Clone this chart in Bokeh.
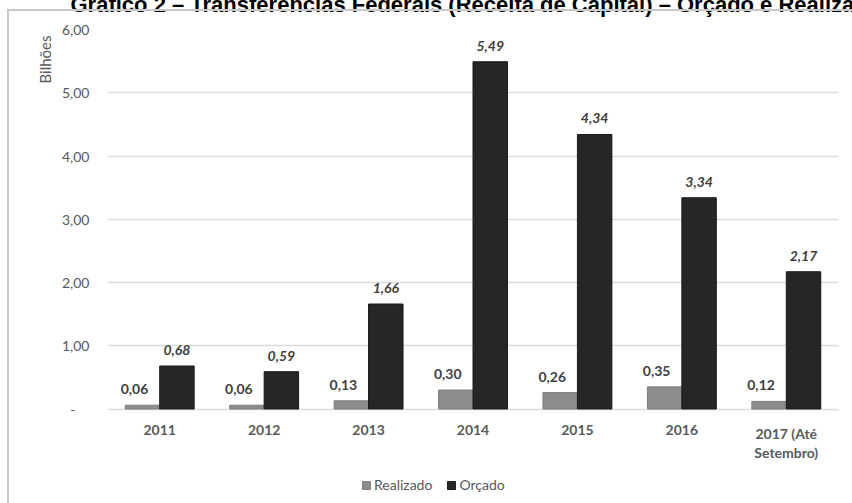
from bokeh.plotting import figure
from bokeh.models import (ColumnDataSource, FactorRange, Range1d, FixedTicker,
                          CustomJSTickFormatter, Title, Legend, LegendItem,
                          InlineStyleSheet)
from bokeh.transform import dodge
from bokeh.core.properties import value
from bokeh.embed import file_html
from bokeh.resources import INLINE

# Transferências federais (receita de capital), em bilhões
anos = ["2011", "2012", "2013", "2014", "2015", "2016", "2017 (Até\nSetembro)"]
realizado = [0.06, 0.06, 0.13, 0.30, 0.26, 0.35, 0.12]
orcado = [0.68, 0.59, 1.66, 5.49, 4.34, 3.34, 2.17]
y_ticks = [0, 1, 2, 3, 4, 5, 6]

titulo = "Gráfico 2 – Transferências Federais (Receita de Capital) – Orçado e Realizado"


def fmt(v):
    return f"{v:.2f}".replace(".", ",")


src = ColumnDataSource(dict(
    ano=anos,
    realizado=realizado,
    orcado=orcado,
    lbl_r=[fmt(v) for v in realizado],
    lbl_o=[fmt(v) for v in orcado],
    zero=[0] * len(anos),
))

FONT = "Lato"
GRAY_TXT = "#595959"
LBL_TXT = "#404040"
SHIFT = 31  # page heading sits partly above the visible area

# thin frame around the chart area (top and left edges)
frame_css = InlineStyleSheet(css=f"""
:host {{ position: relative; }}
:host::after {{
  content: ""; position: absolute; left: 7px; top: {9 + SHIFT}px;
  right: 0; bottom: 0; border-left: 2px solid #c8c8c8;
  border-top: 2px solid #c8c8c8; pointer-events: none; z-index: 100;
}}
""")

# the plot area reaches down to the bottom edge so that the category
# captions and the legend can sit below the zero line
p = figure(width=852, height=503 + SHIFT, x_range=FactorRange(*anos),
           y_range=Range1d(-1.494, 6), output_backend="svg",
           toolbar_location=None, x_axis_location=None,
           min_border_left=107, min_border_right=14,
           min_border_top=29 + SHIFT, min_border_bottom=0)
p.styles = {"margin-top": f"-{SHIFT}px"}
p.stylesheets = [frame_css]
p.outline_line_color = None
p.background_fill_color = "white"
p.border_fill_color = "white"

p.title = Title(text=titulo, align="left", offset=-37, standoff=26,
                text_font="Liberation Sans", text_font_size="22px",
                text_font_style="bold", text_color="black")

r_real = p.vbar(x=dodge("ano", -0.165, range=p.x_range), top="realizado",
                width=0.33, source=src, fill_color="#8c8c8c",
                line_color="#7f7f7f", line_width=1)
r_orc = p.vbar(x=dodge("ano", 0.165, range=p.x_range), top="orcado",
               width=0.33, source=src, fill_color="#262626",
               line_color="#1a1a1a", line_width=1)

# value labels
p.text(x=dodge("ano", -0.165, range=p.x_range), y="realizado", text="lbl_r",
       source=src, text_font=value(FONT), text_font_size="14px",
       text_font_style="bold", text_color=LBL_TXT, text_align="center",
       text_baseline="middle", x_offset=-8, y_offset=-16)
p.text(x=dodge("ano", 0.165, range=p.x_range), y="orcado", text="lbl_o",
       source=src, text_font=value(FONT), text_font_size="14px",
       text_font_style="bold italic", text_color=LBL_TXT, text_align="center",
       text_baseline="middle", y_offset=-16)

# category captions under the zero line
p.text(x="ano", y="zero", text="ano", source=src, text_font=value(FONT),
       text_font_size="14px", text_font_style="bold", text_color=GRAY_TXT,
       text_align="center", text_baseline="top", text_line_height=1.1,
       y_offset=16)

# value axis
p.yaxis.ticker = FixedTicker(ticks=y_ticks)
p.yaxis.formatter = CustomJSTickFormatter(code="""
    if (tick == 0) { return "-\u2002\u2002"; }
    return tick.toFixed(2).replace('.', ',');
""")
p.yaxis.axis_line_color = None
p.yaxis.major_tick_line_color = None
p.yaxis.minor_tick_line_color = None
p.yaxis.major_label_text_font = FONT
p.yaxis.major_label_text_font_size = "14px"
p.yaxis.major_label_text_color = GRAY_TXT
p.yaxis.major_label_standoff = 12

p.xgrid.grid_line_color = None
p.ygrid.ticker = FixedTicker(ticks=y_ticks)
p.ygrid.grid_line_color = "#dcdcdc"
p.ygrid.grid_line_width = 1.5

# unit caption at the top of the value axis
p.add_layout(Title(text="Bilhões", align="right", offset=6, standoff=10,
                   text_font=FONT, text_font_size="15px",
                   text_font_style="normal", text_color=GRAY_TXT), "left")

legend = Legend(items=[LegendItem(label="Realizado", renderers=[r_real]),
                       LegendItem(label="Orçado", renderers=[r_orc])],
                orientation="horizontal", location=(254, 10),
                glyph_width=10, glyph_height=10, label_standoff=3,
                spacing=14, padding=0, margin=0, border_line_alpha=0,
                background_fill_alpha=0, label_text_font=FONT,
                label_text_font_size="14px", label_text_color=GRAY_TXT)
p.add_layout(legend)

open("out.html", "w").write(file_html(p, INLINE))
